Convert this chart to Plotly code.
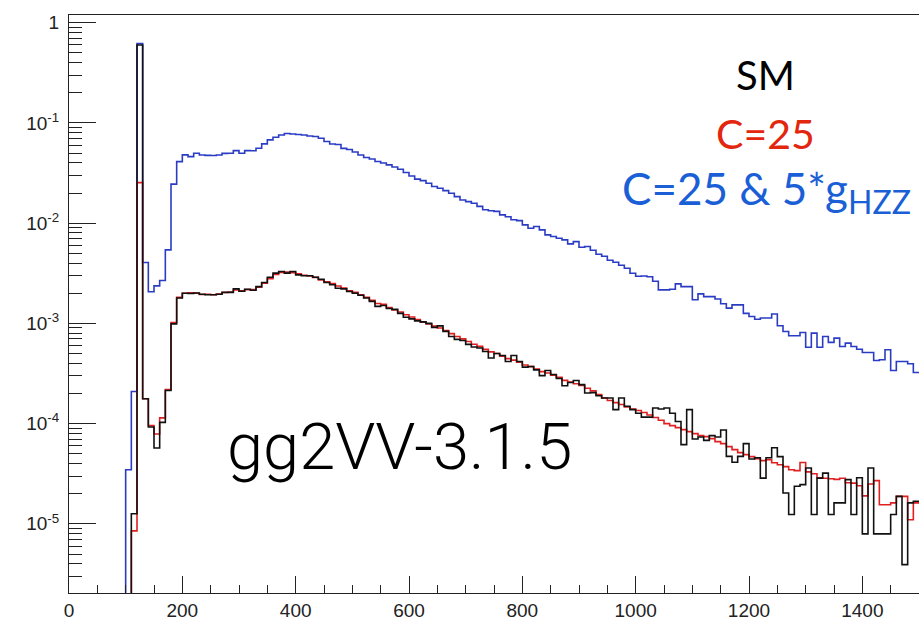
import plotly.graph_objects as go

# ---------------- data (bin contents, 10-unit bins from 0 to 1500) ----------------
BIN_LO = list(range(0, 1500, 10))
X_END = 1500

# C=25 & 5*gHZZ (blue)
c25_g5 = [0, 0, 0, 0, 0, 0, 0, 0, 0, 0,
          3.47e-5, 2.09e-4, 0.62, 4.05e-3, 2.07e-3, 2.37e-3, 2.68e-3, 5.42e-3, 2.45e-2, 4.11e-2,
          4.80e-2, 4.61e-2, 4.98e-2, 4.79e-2, 4.75e-2, 4.73e-2, 4.78e-2, 4.97e-2, 4.98e-2, 5.30e-2,
          4.98e-2, 5.30e-2, 5.28e-2, 5.60e-2, 6.18e-2, 6.78e-2, 7.19e-2, 7.59e-2, 7.85e-2, 7.76e-2,
          7.67e-2, 7.59e-2, 7.41e-2, 7.33e-2, 7.03e-2, 6.52e-2, 6.17e-2, 6.10e-2, 5.58e-2, 5.43e-2,
          5.13e-2, 4.79e-2, 4.52e-2, 4.37e-2, 4.12e-2, 3.98e-2, 3.82e-2, 3.63e-2, 3.45e-2, 3.20e-2,
          2.96e-2, 2.75e-2, 2.66e-2, 2.50e-2, 2.32e-2, 2.23e-2, 2.11e-2, 1.99e-2, 1.84e-2, 1.70e-2,
          1.64e-2, 1.58e-2, 1.47e-2, 1.36e-2, 1.33e-2, 1.31e-2, 1.21e-2, 1.16e-2, 1.08e-2, 1.06e-2,
          9.62e-3, 8.91e-3, 9.25e-3, 8.57e-3, 7.64e-3, 7.36e-3, 7.08e-3, 6.81e-3, 6.21e-3, 6.55e-3,
          5.75e-3, 5.85e-3, 5.37e-3, 4.90e-3, 4.68e-3, 4.27e-3, 4.07e-3, 3.80e-3, 3.55e-3, 3.16e-3,
          2.95e-3, 2.97e-3, 2.92e-3, 2.63e-3, 2.16e-3, 2.16e-3, 2.19e-3, 2.48e-3, 2.33e-3, 2.33e-3,
          1.72e-3, 1.97e-3, 1.85e-3, 1.85e-3, 1.75e-3, 1.57e-3, 1.42e-3, 1.53e-3, 1.53e-3, 1.26e-3,
          1.17e-3, 1.10e-3, 1.13e-3, 1.13e-3, 1.24e-3, 9.46e-4, 8.30e-4, 7.52e-4, 7.52e-4, 8.11e-4,
          5.79e-4, 8.00e-4, 5.79e-4, 7.40e-4, 6.46e-4, 7.13e-4, 5.89e-4, 6.35e-4, 5.89e-4, 5.53e-4,
          5.13e-4, 5.13e-4, 4.27e-4, 4.34e-4, 5.46e-4, 3.39e-4, 4.17e-4, 4.17e-4, 3.95e-4, 3.24e-4]

# C=25 (red)
c25 = [0, 0, 0, 0, 0, 0, 0, 0, 0, 0,
       0, 8.5e-6, 2.54e-2, 1.77e-4, 9.55e-5, 7.87e-5, 1.14e-4, 2.19e-4, 1.02e-3, 1.82e-3,
       2.00e-3, 2.02e-3, 2.00e-3, 1.94e-3, 1.95e-3, 1.93e-3, 1.96e-3, 2.03e-3, 2.06e-3, 2.15e-3,
       2.12e-3, 2.17e-3, 2.18e-3, 2.30e-3, 2.52e-3, 2.80e-3, 3.08e-3, 3.22e-3, 3.25e-3, 3.21e-3,
       3.12e-3, 3.02e-3, 2.97e-3, 2.88e-3, 2.72e-3, 2.60e-3, 2.50e-3, 2.36e-3, 2.25e-3, 2.12e-3,
       2.04e-3, 1.93e-3, 1.82e-3, 1.70e-3, 1.58e-3, 1.55e-3, 1.44e-3, 1.36e-3, 1.30e-3, 1.22e-3,
       1.16e-3, 1.09e-3, 1.03e-3, 9.9e-4, 9.4e-4, 9.0e-4, 8.5e-4, 7.9e-4, 7.4e-4, 7.0e-4,
       6.6e-4, 6.2e-4, 5.9e-4, 5.5e-4, 5.2e-4, 5.0e-4, 4.7e-4, 4.45e-4, 4.3e-4, 4.1e-4,
       3.85e-4, 3.7e-4, 3.5e-4, 3.3e-4, 3.2e-4, 3.05e-4, 2.9e-4, 2.7e-4, 2.6e-4, 2.5e-4,
       2.4e-4, 2.25e-4, 2.12e-4, 1.95e-4, 1.80e-4, 1.70e-4, 1.62e-4, 1.55e-4, 1.47e-4, 1.40e-4,
       1.35e-4, 1.29e-4, 1.22e-4, 1.15e-4, 1.08e-4, 1.00e-4, 9.55e-5, 9.12e-5, 8.71e-5, 8.32e-5,
       7.94e-5, 7.59e-5, 7.41e-5, 7.08e-5, 6.61e-5, 6.31e-5, 5.89e-5, 5.50e-5, 5.13e-5, 4.90e-5,
       4.68e-5, 4.47e-5, 4.27e-5, 4.37e-5, 4.07e-5, 3.89e-5, 3.72e-5, 3.47e-5, 3.40e-5, 4.10e-5,
       3.30e-5, 3.16e-5, 2.88e-5, 2.85e-5, 2.82e-5, 2.78e-5, 2.85e-5, 2.57e-5, 2.55e-5, 2.40e-5,
       1.90e-5, 2.50e-5, 2.70e-5, 1.55e-5, 1.55e-5, 1.62e-5, 1.88e-5, 1.88e-5, 1.10e-5, 1.62e-5]

# SM (black)
sm = [0, 0, 0, 0, 0, 0, 0, 0, 0, 0,
      0, 1.26e-5, 0.60, 1.77e-4, 9.25e-5, 5.71e-5, 1.03e-4, 2.14e-4, 9.9e-4, 1.79e-3,
      2.00e-3, 1.99e-3, 2.01e-3, 1.95e-3, 1.93e-3, 1.93e-3, 1.95e-3, 2.04e-3, 2.04e-3, 2.21e-3,
      2.09e-3, 2.19e-3, 2.14e-3, 2.33e-3, 2.56e-3, 2.89e-3, 3.17e-3, 3.30e-3, 3.17e-3, 3.30e-3,
      3.05e-3, 2.99e-3, 2.99e-3, 2.89e-3, 2.76e-3, 2.56e-3, 2.43e-3, 2.24e-3, 2.21e-3, 2.08e-3,
      2.00e-3, 1.91e-3, 1.79e-3, 1.66e-3, 1.48e-3, 1.51e-3, 1.41e-3, 1.38e-3, 1.26e-3, 1.15e-3,
      1.11e-3, 1.06e-3, 1.035e-3, 1.00e-3, 9.12e-4, 9.44e-4, 8.32e-4, 7.41e-4, 6.92e-4, 6.76e-4,
      6.17e-4, 5.82e-4, 5.69e-4, 5.25e-4, 4.52e-4, 5.01e-4, 4.79e-4, 4.17e-4, 4.79e-4, 4.17e-4,
      3.66e-4, 3.72e-4, 3.44e-4, 3.01e-4, 3.39e-4, 3.09e-4, 2.82e-4, 2.39e-4, 2.57e-4, 2.69e-4,
      2.45e-4, 2.02e-4, 2.04e-4, 1.90e-4, 1.80e-4, 1.80e-4, 1.38e-4, 1.80e-4, 1.49e-4, 1.38e-4,
      1.27e-4, 1.16e-4, 1.16e-4, 1.43e-4, 1.40e-4, 1.43e-4, 1.27e-4, 1.05e-4, 6.17e-5, 1.38e-4,
      7.03e-5, 7.35e-5, 6.81e-5, 7.59e-5, 7.35e-5, 8.63e-5, 4.71e-5, 4.11e-5, 4.71e-5, 6.31e-5,
      4.44e-5, 4.57e-5, 2.86e-5, 4.57e-5, 5.75e-5, 4.68e-5, 2.03e-5, 1.24e-5, 2.37e-5, 2.46e-5,
      3.61e-5, 1.24e-5, 2.86e-5, 3.21e-5, 1.24e-5, 1.62e-5, 1.62e-5, 2.76e-5, 1.24e-5, 2.88e-5,
      7.94e-6, 3.61e-5, 7.94e-6, 7.94e-6, 7.94e-6, 1.24e-5, 1.88e-5, 3.92e-6, 1.62e-5, 1.68e-5]

X_TICKS = [0, 200, 400, 600, 800, 1000, 1200, 1400]
Y_TICKS = [1, 1e-1, 1e-2, 1e-3, 1e-4, 1e-5]
Y_TICKTEXT = ["1", "10<sup>-1</sup>", "10<sup>-2</sup>", "10<sup>-3</sup>",
              "10<sup>-4</sup>", "10<sup>-5</sup>"]
LABELS = ["SM", "C=25",
          "C=25 &amp; 5*g<sub><span style='font-size:32px'>HZZ</span></sub>"]
TITLE_TEXT = "gg2VV-3.1.5"

# ---------------- figure ----------------
FLOOR = 1e-9  # empty bins fall below the visible range


def step_xy(vals):
    xs = BIN_LO + [X_END]
    ys = [v if v > 0 else FLOOR for v in vals]
    ys = ys + [ys[-1]]
    return xs, ys


fig = go.Figure()
for vals, col in [(c25_g5, "#2b3cc4"), (c25, "#e02020"), (sm, "#111111")]:
    xs, ys = step_xy(vals)
    fig.add_trace(go.Scatter(x=xs, y=ys, mode="lines", line_shape="hv",
                             line=dict(color=col, width=1.6), hoverinfo="skip"))

minor_y = [m * 10.0 ** e for e in range(-6, 0) for m in range(2, 10)]

fig.update_layout(
    width=919, height=620,
    margin=dict(l=69, r=0, t=15, b=27, autoexpand=False),
    plot_bgcolor="white", paper_bgcolor="white",
    showlegend=False,
    xaxis=dict(range=[0, X_END], showline=True, mirror=True, linecolor="#222",
               linewidth=1, ticks="inside", ticklen=17, tickwidth=1, tickcolor="#222",
               tickmode="array", tickvals=X_TICKS, showgrid=False, zeroline=False,
               automargin=False,
               tickfont=dict(family="Liberation Sans, Arial", size=19, color="#222"),
               ticklabelstandoff=0,
               minor=dict(ticks="inside", ticklen=8, tickwidth=1, tickcolor="#222",
                          dtick=50, tick0=0, showgrid=False)),
    yaxis=dict(type="log", range=[-5.69, 0.077], showline=True, mirror=True,
               linecolor="#222", linewidth=1, ticks="inside", ticklen=27, tickwidth=1,
               tickcolor="#222", tickmode="array", tickvals=Y_TICKS, ticktext=Y_TICKTEXT,
               showgrid=False, zeroline=False, automargin=False,
               tickfont=dict(family="Liberation Sans, Arial", size=19, color="#222"),
               ticklabelstandoff=5,
               minor=dict(ticks="inside", ticklen=13, tickwidth=1, tickcolor="#222",
                          tickmode="array", tickvals=minor_y, showgrid=False)),
)

PLOT_L, PLOT_W, PLOT_T, PLOT_H = 69, 850, 15, 578


def px_to_paper(px, py):
    return (px - PLOT_L) / PLOT_W, 1 - (py - PLOT_T) / PLOT_H


for text, (px, py), col, size in [(LABELS[0], (765, 75), "#000000", 40),
                                  (LABELS[1], (765, 133), "#e3260e", 41),
                                  (LABELS[2], (766, 192), "#1a5fd6", 44)]:
    xp, yp = px_to_paper(px, py)
    fig.add_annotation(x=xp, y=yp, xref="paper", yref="paper", text=text,
                       xanchor="center", yanchor="middle", showarrow=False,
                       font=dict(family="Lato", size=size, color=col))

xp, yp = px_to_paper(399, 447)
fig.add_annotation(x=xp, y=yp, xref="paper", yref="paper", text=TITLE_TEXT,
                   xanchor="center", yanchor="middle", showarrow=False,
                   font=dict(family="Roboto", size=65, color="#000", weight=300))

fig.write_html("out.html")
